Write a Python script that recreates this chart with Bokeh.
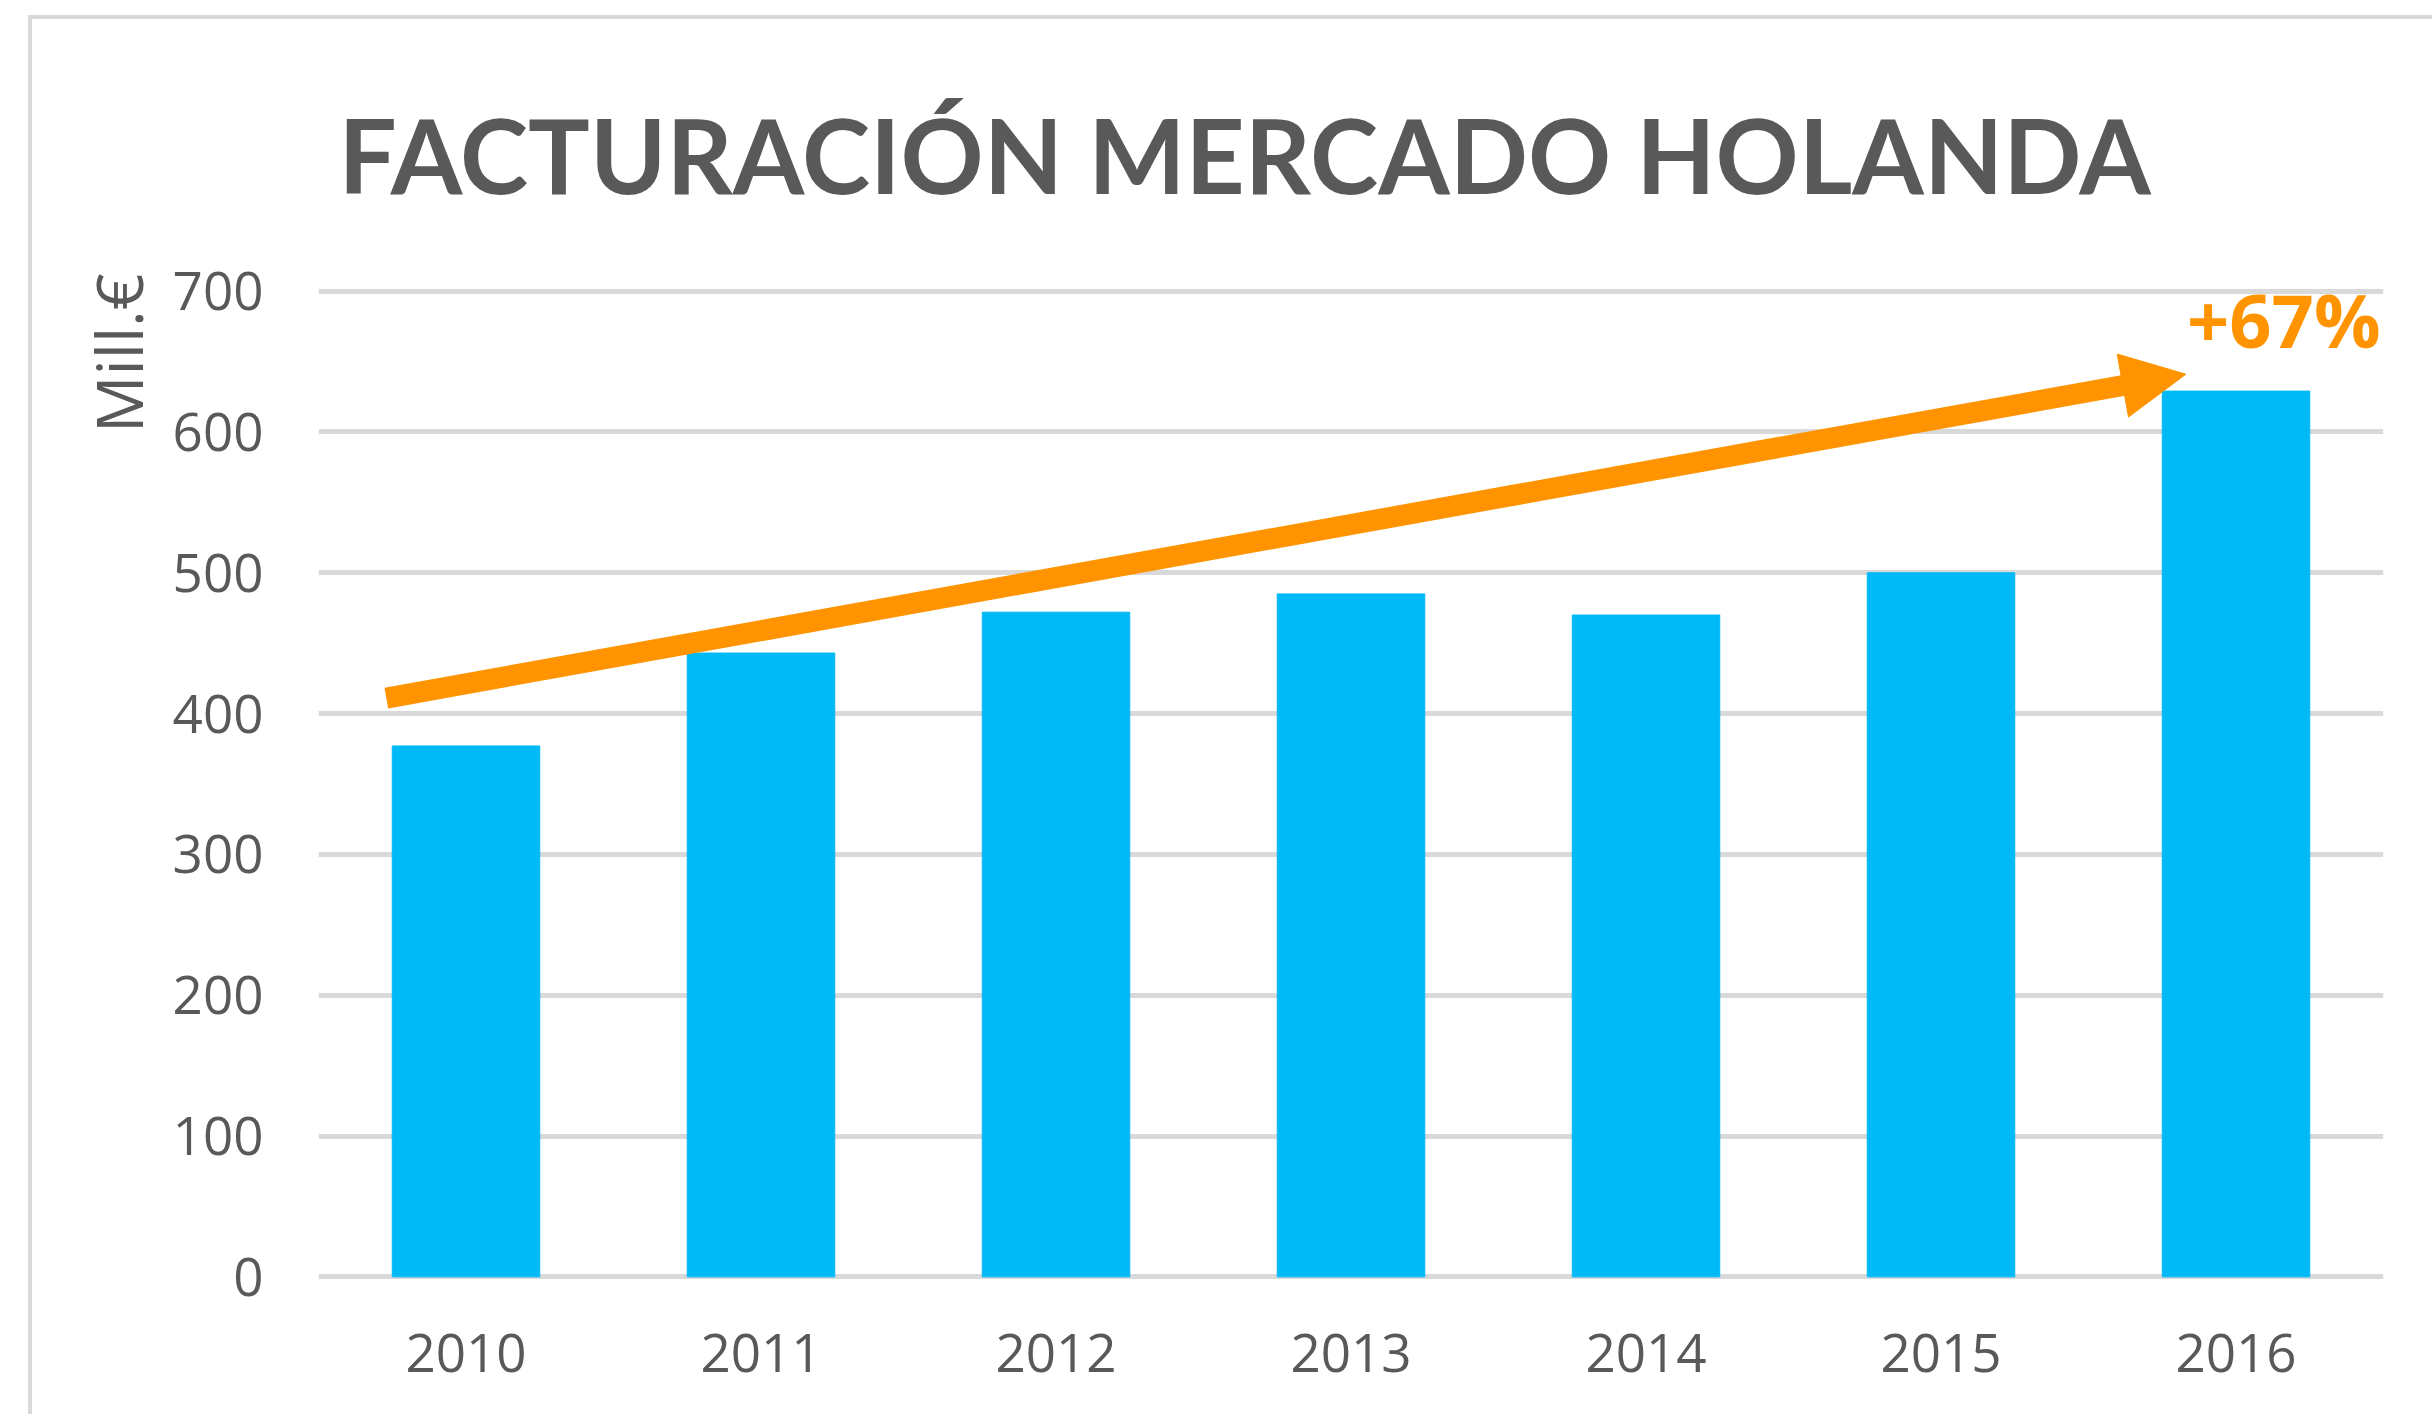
import math
from bokeh.plotting import figure
from bokeh.layouts import column
from bokeh.models import FixedTicker, Label, Arrow, NormalHead, Title, ColumnDataSource, Range1d
from bokeh.embed import file_html
from bokeh.resources import INLINE

# ---- data ----
years = ["2010", "2011", "2012", "2013", "2014", "2015", "2016"]
revenue = [377, 443, 472, 485, 470, 500, 629]
y_ticks = [0, 100, 200, 300, 400, 500, 600, 700]
title_text = "FACTURACIÓN MERCADO HOLANDA"
y_label = "Mill.€"
growth_label = "+67%"

# ---- styling ----
BAR = "#00B9F7"
ORANGE = "#FF9400"
GRID = "#D9D9D9"
TEXT = "#595959"

p = figure(x_range=years, y_range=Range1d(-4, 704), width=2400, height=1395,
           output_backend="svg", toolbar_location=None,
           min_border_left=286, min_border_right=49,
           min_border_top=265, min_border_bottom=132)
p.outline_line_color = None
p.background_fill_color = "white"
p.border_fill_color = "white"

src = ColumnDataSource(dict(year=years, value=revenue))
p.vbar(x="year", top="value", width=0.5, source=src, color=BAR)

p.xgrid.visible = False
p.ygrid.ticker = FixedTicker(ticks=y_ticks)
p.ygrid.grid_line_color = GRID
p.ygrid.grid_line_width = 5

p.yaxis.ticker = FixedTicker(ticks=y_ticks)
for ax in (p.xaxis[0], p.yaxis[0]):
    ax.axis_line_color = None
    ax.major_tick_line_color = None
    ax.minor_tick_line_color = None
    ax.major_label_text_font = "Open Sans"
    ax.major_label_text_font_size = "53px"
    ax.major_label_text_color = TEXT
p.yaxis.major_label_standoff = 49
p.xaxis.major_label_standoff = 45

# chart title
p.title.text = title_text
p.title.align = "left"
p.title.offset = 20
p.title.standoff = 140
p.title.text_font = "Lato"
p.title.text_font_style = "bold"
p.title.text_font_size = "103px"
p.title.text_color = TEXT

# unit label at the top of the value axis
p.add_layout(Title(text=y_label, align="right", offset=-12, standoff=16,
                   text_font="Open Sans", text_font_style="normal",
                   text_font_size="64px", text_color=TEXT), "left")

# trend arrow (annotation)
p.add_layout(Arrow(end=NormalHead(size=64, fill_color=ORANGE, line_color=ORANGE),
                   x_start=0.23, y_start=411, x_end=6.33, y_end=641,
                   line_color=ORANGE, line_width=21))

p.add_layout(Label(x=6.99, y=680, text=growth_label, text_font="Open Sans",
                   text_font_style="bold", text_font_size="74px",
                   text_color=ORANGE, text_align="right",
                   text_baseline="alphabetic"))

layout = column(p, margin=(15, 0, 0, 28),
                styles={"border-left": "4px solid #D9D9D9",
                        "border-top": "4px solid #D9D9D9"})

open("out.html", "w").write(file_html(layout, INLINE))
